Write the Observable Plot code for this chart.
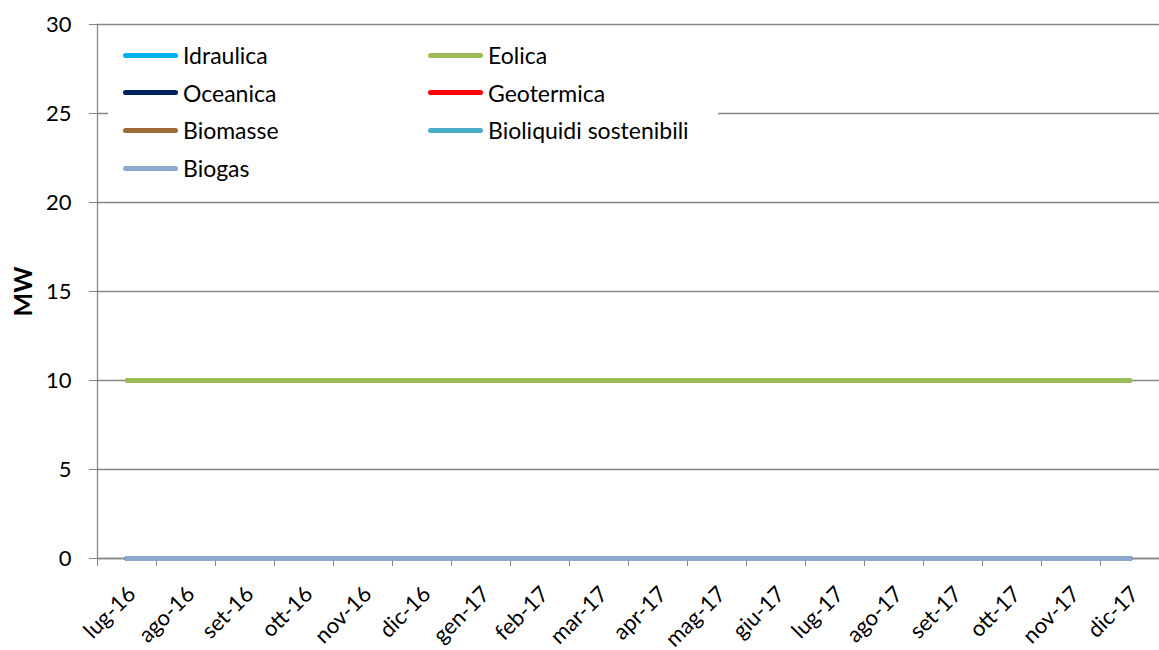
<!DOCTYPE html>
<html>
<head>
<meta charset="utf-8">
<script src="https://cdn.jsdelivr.net/npm/d3@7"></script>
<script src="https://cdn.jsdelivr.net/npm/@observablehq/plot@0.6"></script>
<style>
  html, body { margin: 0; padding: 0; background: #fff; }
  #wrap { position: relative; width: 1159px; height: 650px; font-family: Lato, "Open Sans", sans-serif; }
  #legend { position: absolute; left: 108px; top: 31px; width: 610px; height: 154px; background: #fff; }
  .item { position: absolute; display: flex; align-items: center; font-size: 23px; line-height: 28px; color: #000; white-space: nowrap; }
  .swatch { width: 55px; height: 5px; border-radius: 3px; margin-right: 5px; }
</style>
</head>
<body>
<div id="wrap"></div>
<script>
const months = ["lug-16","ago-16","set-16","ott-16","nov-16","dic-16","gen-17","feb-17","mar-17","apr-17","mag-17","giu-17","lug-17","ago-17","set-17","ott-17","nov-17","dic-17"];
const seriesNames = ["Idraulica","Eolica","Oceanica","Geotermica","Biomasse","Bioliquidi sostenibili","Biogas"];
const seriesColors = ["#00B0F0","#9BBB59","#002060","#FF0000","#9C6A37","#4BACC6","#8EA9D0"];
const idraulica  = [0,0,0,0,0,0,0,0,0,0,0,0,0,0,0,0,0,0];
const eolica     = [10,10,10,10,10,10,10,10,10,10,10,10,10,10,10,10,10,10];
const oceanica   = [0,0,0,0,0,0,0,0,0,0,0,0,0,0,0,0,0,0];
const geotermica = [0,0,0,0,0,0,0,0,0,0,0,0,0,0,0,0,0,0];
const biomasse   = [0,0,0,0,0,0,0,0,0,0,0,0,0,0,0,0,0,0];
const bioliquidi = [0,0,0,0,0,0,0,0,0,0,0,0,0,0,0,0,0,0];
const biogas     = [0,0,0,0,0,0,0,0,0,0,0,0,0,0,0,0,0,0];
const yTicks = [0,5,10,15,20,25,30];

const seriesValues = [idraulica, eolica, oceanica, geotermica, biomasse, bioliquidi, biogas];
const rows = [];
seriesNames.forEach((name, s) => {
  seriesValues[s].forEach((v, i) => rows.push({series: name, i, value: v}));
});
const boundaries = d3.range(months.length + 1).map(i => i - 0.5);

const chart = Plot.plot({
  width: 1159,
  height: 650,
  marginTop: 24,
  marginBottom: 92,
  marginLeft: 97,
  marginRight: 0,
  style: {fontFamily: "Lato, 'Open Sans', sans-serif", fontSize: "22px", color: "#000", background: "#fff"},
  x: {domain: [-0.5, months.length - 0.5], axis: null},
  y: {domain: [0, 30], axis: null},
  color: {domain: seriesNames, range: seriesColors},
  marks: [
    Plot.gridY(yTicks, {x1: -0.5, x2: months.length - 0.5, stroke: "#868686", strokeOpacity: 1, strokeWidth: 1.3}),
    Plot.axisY(yTicks, {tickSize: 8, tickPadding: 18, stroke: "#868686", label: null, fontSize: 22, fill: "#000"}),
    Plot.ruleX([-0.5], {y1: 0, y2: 30, stroke: "#868686", strokeWidth: 1.3}),
    Plot.ruleY([0], {stroke: "#868686", strokeWidth: 1.3}),
    Plot.axisX(boundaries, {tickSize: 8, tickFormat: () => "", stroke: "#868686", label: null}),
    Plot.axisX(d3.range(months.length), {tickSize: 0, tickPadding: 32, tickRotate: -45, dx: 5, tickFormat: i => months[i], label: null, fontSize: 22, fill: "#000"}),
    Plot.text(["MW"], {frameAnchor: "left", textAnchor: "middle", dx: -74, rotate: -90, fontWeight: "bold", fontSize: 25, fill: "#000"}),
    Plot.line(rows, {x: "i", y: "value", z: "series", stroke: "series", strokeWidth: 5, strokeLinecap: "round", strokeLinejoin: "round"})
  ]
});

const wrap = document.getElementById("wrap");
wrap.appendChild(chart);

const legend = document.createElement("div");
legend.id = "legend";
const legendOrder = ["Idraulica","Eolica","Oceanica","Geotermica","Biomasse","Bioliquidi sostenibili","Biogas"];
legendOrder.forEach((name, k) => {
  const col = k % 2, row = Math.floor(k / 2);
  const item = document.createElement("div");
  item.className = "item";
  item.style.left = (15 + col * 305) + "px";
  item.style.top = (10 + row * 37.7) + "px";
  const sw = document.createElement("div");
  sw.className = "swatch";
  sw.style.background = seriesColors[seriesNames.indexOf(name)];
  const label = document.createElement("span");
  label.textContent = name;
  item.appendChild(sw);
  item.appendChild(label);
  legend.appendChild(item);
});
wrap.appendChild(legend);
</script>
</body>
</html>
